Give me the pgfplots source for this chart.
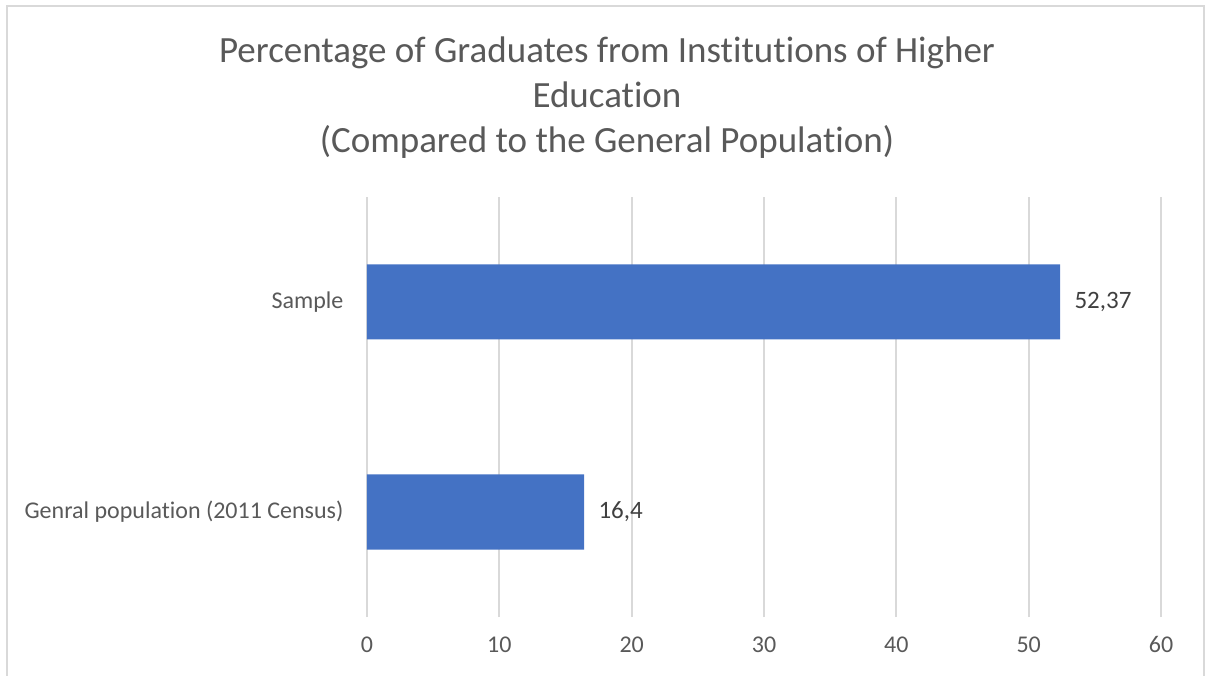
\documentclass[border=0pt]{standalone}
\usepackage{pgfplots}
\pgfplotsset{compat=1.18}
\usepackage{fontspec}
\setmainfont[Ligatures={NoCommon,NoRequired,NoContextual}]{Carlito}
\definecolor{barblue}{HTML}{4472C4}
\definecolor{gridgray}{HTML}{D9D9D9}
\definecolor{txtgray}{HTML}{595959}
\definecolor{lblgray}{HTML}{404040}
\begin{document}
\begin{tikzpicture}[x=1pt,y=1pt]
\useasboundingbox (0,0) rectangle (1208,675);
\draw[gridgray, line width=2pt] (6.5,-2) -- (6.5,668.5) -- (1203.5,668.5) -- (1203.5,-2);
\node[txtgray, align=center, font=\fontsize{37}{45}\selectfont] at (607,577) {Percentage of Graduates from Institutions of Higher\\Education\\(Compared to the General Population)};
\begin{axis}[
  at={(367pt,58pt)}, anchor=south west, scale only axis,
  width=794pt, height=420pt,
  xbar, bar width=75pt,
  xmin=0, xmax=60, ymin=-0.5, ymax=1.5,
  ytick={0,1}, yticklabels={Genral population (2011 Census), Sample},
  xtick={0,10,...,60},
  axis line style={draw=none}, major tick length=0pt,
  xmajorgrids, grid style={gridgray, line width=1.8pt},
  ymajorgrids=false,
  tick label style={font=\fontsize{24}{29}\selectfont, text=txtgray},
  /pgf/number format/assume math mode=true,
  xticklabel style={yshift=-16pt},
  yticklabel style={xshift=-20pt},
  nodes near coords,
  nodes near coords style={font=\fontsize{25}{30}\selectfont, text=lblgray, anchor=west, xshift=11pt, /pgf/number format/use comma, /pgf/number format/assume math mode=true},
]
\addplot[fill=barblue, draw=none] coordinates {(16.4,0) (52.37,1)};
\end{axis}
\end{tikzpicture}
\end{document}
